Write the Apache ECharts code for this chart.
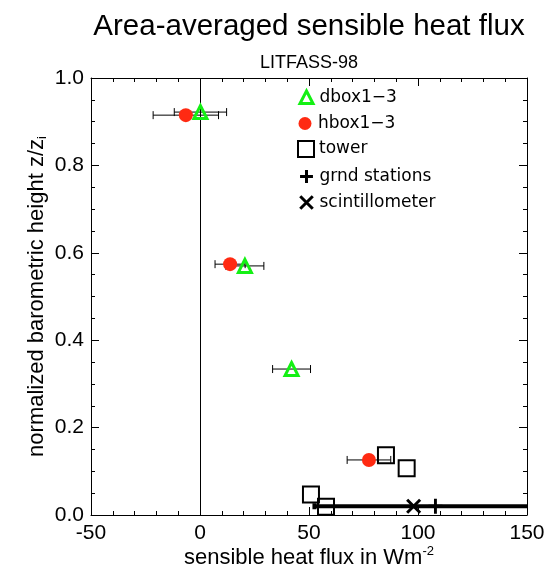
<!DOCTYPE html>
<html>
<head>
<meta charset="utf-8">
<script src="https://cdn.jsdelivr.net/npm/echarts@6/dist/echarts.min.js"></script>
<style>
  html, body { margin: 0; padding: 0; background: #fff; }
  #chart { width: 555px; height: 575px; }
</style>
</head>
<body>
<div id="chart"></div>
<script>
// --- data ---
const dboxX = [0.2, 20.6, 42];
const dboxY = [0.922, 0.570, 0.334];
const dboxErr = [12, 8.7, 8.7];

const hboxX = [-6.5, 13.8, 77.5];
const hboxY = [0.915, 0.574, 0.126];
const hboxErr = [15, 6.9, 10];

const towerX = [85.3, 94.8, 50.9, 57.8];
const towerY = [0.137, 0.107, 0.047, 0.019];

const grndX = [108];
const grndY = [0.02];
const grndErr = [55.5];

const scintX = [98];
const scintY = [0.02];

const legendNames = ['dbox1−3', 'hbox1−3', 'tower', 'grnd stations', 'scintillometer'];

const FONT = '"Liberation Sans", Arial, sans-serif';
const LEG_FONT = '"DejaVu Sans", sans-serif';

const zip = (xs, ys, es) => xs.map((x, i) => es ? [x, ys[i], es[i]] : [x, ys[i]]);

// horizontal error bar with end caps
const errBar = (lineW, capH) => (params, api) => {
  const x = api.value(0), y = api.value(1), e = api.value(2);
  const cs = params.coordSys;
  const p1 = api.coord([x - e, y]);
  const p2 = api.coord([x + e, y]);
  const xmin = cs.x, xmax = cs.x + cs.width;
  const x1 = Math.max(p1[0], xmin), x2 = Math.min(p2[0], xmax);
  const style = { stroke: '#000', lineWidth: lineW };
  const kids = [{ type: 'line', shape: { x1: x1, y1: p1[1], x2: x2, y2: p1[1] }, style: style }];
  if (p1[0] >= xmin) kids.push({ type: 'line', shape: { x1: p1[0], y1: p1[1] - capH, x2: p1[0], y2: p1[1] + capH }, style: style });
  if (p2[0] <= xmax) kids.push({ type: 'line', shape: { x1: p2[0], y1: p2[1] - capH, x2: p2[0], y2: p2[1] + capH }, style: style });
  return { type: 'group', children: kids };
};

const chart = echarts.init(document.getElementById('chart'), null, { renderer: 'canvas' });

const axisLine = { show: true, onZero: false, lineStyle: { color: '#000', width: 1 } };
const axisTick = { show: true, inside: true, length: 8, lineStyle: { color: '#000' } };
const minorX = { show: true, splitNumber: 5, length: 4, lineStyle: { color: '#000' } };
const minorY = { show: true, splitNumber: 4, length: 4, lineStyle: { color: '#000' } };

const PLUS = 'path://M5,0 L5,10 M0,5 L10,5';
const CROSS = 'path://M0,0 L10,10 M10,0 L0,10';
// same glyphs with some empty room round them, for the legend
const PLUS_LEG = 'path://M-1.2,-1.2 M11.2,11.2 M5,0 L5,10 M0,5 L10,5';
const CROSS_LEG = 'path://M-1.4,-1.4 M11.4,11.4 M0,0 L10,10 M10,0 L0,10';
const TRI_LEG = 'path://M0,0 M16,16 M8,1.5 L14.5,14 L1.5,14 Z';
const DOT_LEG = 'path://M0,0 M16,16 M8,1.5 A6.5,6.5 0 1 1 7.99,1.5 Z';

// one legend block per row so the rows sit where the reference has them
const legendTops = [88, 115, 140, 167, 193];
const legendIcons = [TRI_LEG, DOT_LEG, 'rect', PLUS_LEG, CROSS_LEG];
const legendBorders = [3, 0, 2, 3, 3];

chart.setOption({
  animation: false,
  backgroundColor: '#fff',
  title: [
    { text: 'Area-averaged sensible heat flux', left: 304, top: 7, textAlign: 'center',
      textStyle: { fontFamily: FONT, fontSize: 29.5, fontWeight: 'normal', color: '#000' } },
    { text: 'LITFASS-98', left: 304, top: 49, textAlign: 'center',
      textStyle: { fontFamily: FONT, fontSize: 18, fontWeight: 'normal', color: '#000' } }
  ],
  legend: legendNames.map((n, i) => ({
    orient: 'vertical',
    left: 297,
    top: legendTops[i],
    itemWidth: 16,
    itemHeight: 16,
    padding: 0,
    data: [{ name: n, icon: legendIcons[i], itemStyle: legendBorders[i] ? { borderWidth: legendBorders[i] } : {} }],
    textStyle: { fontFamily: LEG_FONT, fontSize: 17, color: '#000' }
  })),
  grid: { left: 91, right: 28, top: 78, bottom: 60, outerBoundsMode: 'none' },
  xAxis: [
    {
      type: 'value', min: -50, max: 150, interval: 50, position: 'bottom',
      axisLine: axisLine, axisTick: axisTick, minorTick: minorX, splitLine: { show: false },
      axisLabel: { color: '#000', fontFamily: FONT, fontSize: 21, margin: 8 },
      name: 'sensible heat flux in Wm{sup|-2}',
      nameLocation: 'middle', nameGap: 30, nameMoveOverlap: false,
      nameTextStyle: { color: '#000', fontFamily: FONT, fontSize: 22,
        rich: { sup: { fontFamily: FONT, fontSize: 13, padding: [0, 0, 13, 0] } } }
    },
    {
      type: 'value', min: -50, max: 150, interval: 50, position: 'top',
      axisLine: axisLine, axisTick: axisTick, minorTick: minorX, splitLine: { show: false },
      axisLabel: { show: false }
    }
  ],
  yAxis: [
    {
      type: 'value', min: 0, max: 1, interval: 0.2, position: 'left',
      axisLine: axisLine, axisTick: axisTick, minorTick: minorY, splitLine: { show: false },
      axisLabel: { color: '#000', fontFamily: FONT, fontSize: 21, margin: 7, formatter: v => v.toFixed(1) },
      name: 'normalized barometric height z/z{sub|i}',
      nameLocation: 'middle', nameGap: 42, nameRotate: 90, nameMoveOverlap: false,
      nameTextStyle: { color: '#000', fontFamily: FONT, fontSize: 22,
        rich: { sub: { fontFamily: FONT, fontSize: 13, padding: [11, 0, 0, 0] } } }
    },
    {
      type: 'value', min: 0, max: 1, interval: 0.2, position: 'right',
      axisLine: axisLine, axisTick: axisTick, minorTick: minorY, splitLine: { show: false },
      axisLabel: { show: false }
    }
  ],
  series: [
    {
      name: 'dboxErr', type: 'custom', z: 1,
      renderItem: errBar(1, 4), data: zip(dboxX, dboxY, dboxErr),
      markLine: {
        silent: true, symbol: 'none', label: { show: false },
        lineStyle: { color: '#000', width: 1, type: 'solid' },
        data: [{ xAxis: 0 }]
      }
    },
    { name: 'hboxErr', type: 'custom', z: 1, renderItem: errBar(1, 4), data: zip(hboxX, hboxY, hboxErr) },
    { name: 'grndErr', type: 'custom', z: 1, renderItem: errBar(4, 3), data: zip(grndX, grndY, grndErr) },
    {
      name: 'tower', type: 'scatter', z: 3, symbol: 'rect', symbolSize: 16,
      itemStyle: { color: 'rgba(0,0,0,0)', borderColor: '#000', borderWidth: 2, opacity: 1 },
      data: zip(towerX, towerY)
    },
    {
      name: 'hbox1−3', type: 'scatter', z: 4, symbol: 'circle', symbolSize: 14,
      itemStyle: { color: '#ff2a12', opacity: 1 },
      data: zip(hboxX, hboxY)
    },
    {
      name: 'dbox1−3', type: 'scatter', z: 5, symbol: 'triangle', symbolSize: 13,
      itemStyle: { color: 'rgba(0,0,0,0)', borderColor: '#14f014', borderWidth: 3, opacity: 1 },
      data: zip(dboxX, dboxY)
    },
    {
      name: 'grnd stations', type: 'scatter', z: 4,
      symbol: PLUS, symbolSize: [14, 15],
      itemStyle: { color: 'rgba(0,0,0,0)', borderColor: '#000', borderWidth: 3, opacity: 1 },
      data: zip(grndX, grndY)
    },
    {
      name: 'scintillometer', type: 'scatter', z: 4,
      symbol: CROSS, symbolSize: 13,
      itemStyle: { color: 'rgba(0,0,0,0)', borderColor: '#000', borderWidth: 3, opacity: 1 },
      data: zip(scintX, scintY)
    }
  ]
});
</script>
</body>
</html>
